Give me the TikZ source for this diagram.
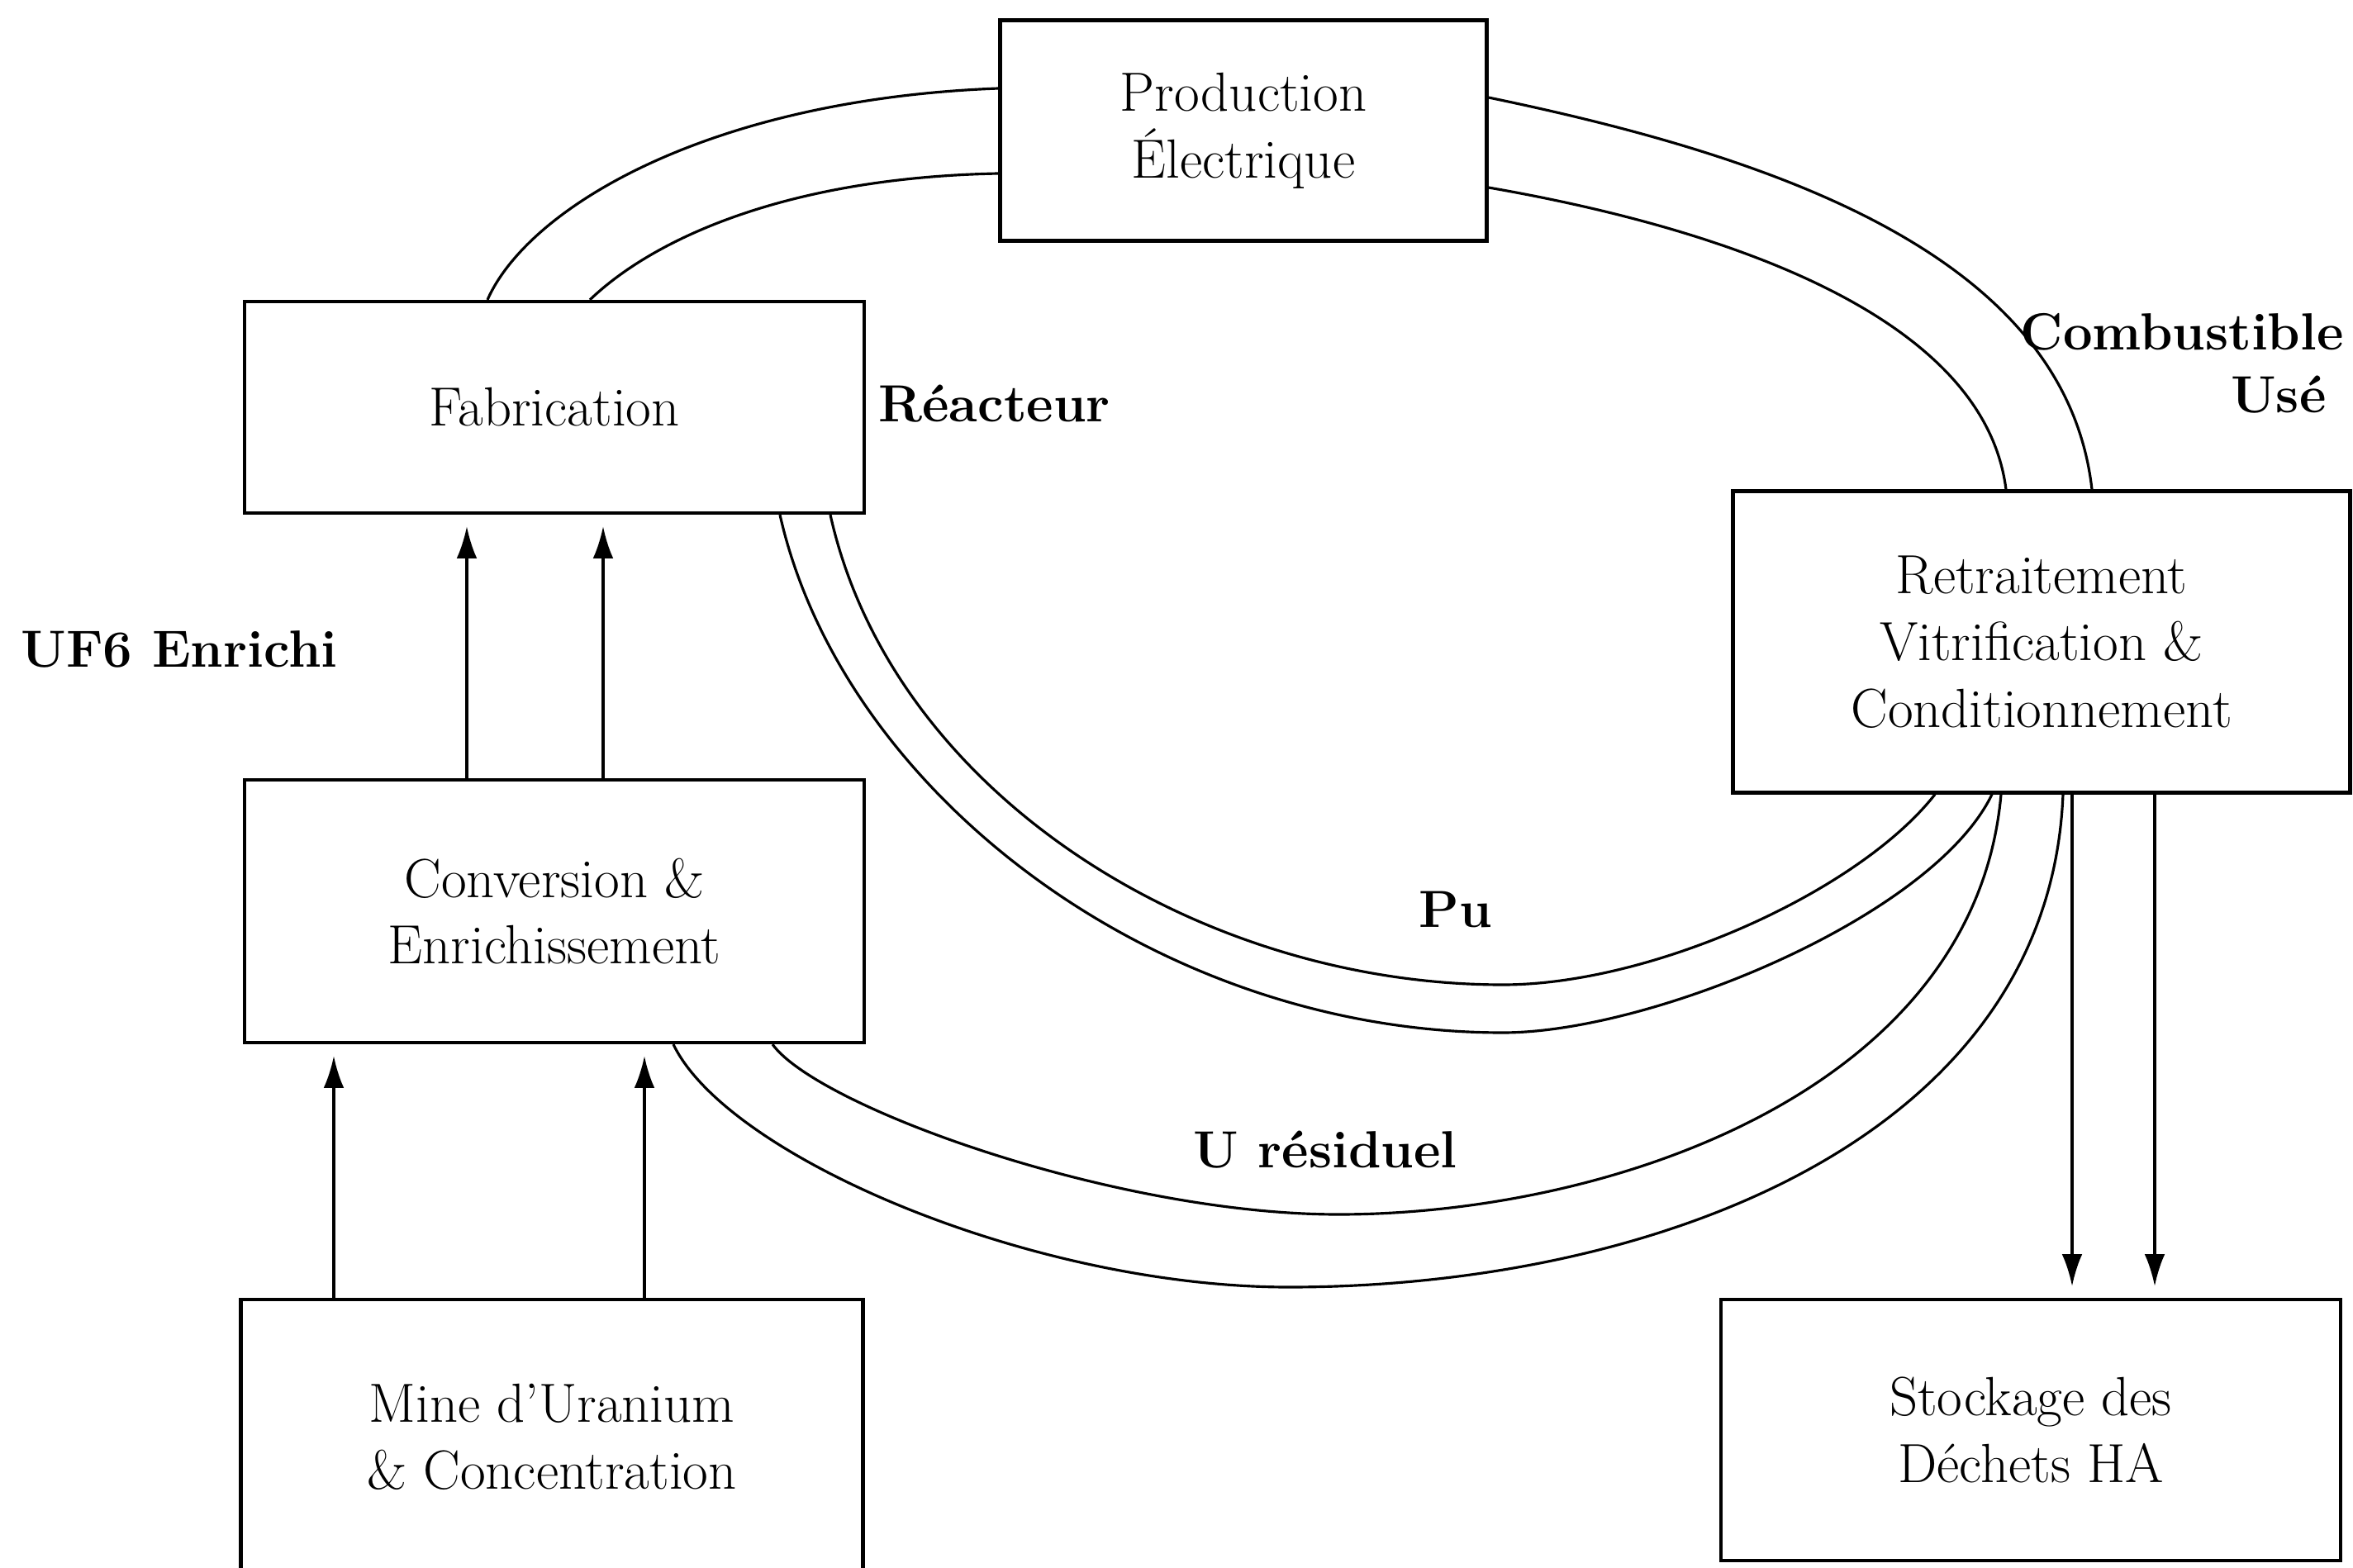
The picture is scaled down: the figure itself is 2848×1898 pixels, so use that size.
\documentclass[tikz,border=0pt]{standalone}
\usetikzlibrary{arrows.meta}
\tikzset{every node/.style={font=\fontsize{19}{23}\selectfont},
  stagebox/.style={draw,line width=1.2pt,align=center,inner sep=1mm},
  flowline/.style={line width=0.9pt},
  flowarrow/.style={line width=0.9pt,-{Latex[length=11pt,width=7pt]},shorten >=4pt},
  boldlabel/.style={font=\bfseries\fontsize{18}{21.5}\selectfont}}

\begin{document}
\begin{tikzpicture}[x=0.1mm,y=-0.1mm]
  \path[use as bounding box] (0,0) rectangle (2848,1898);
  % process boxes
  \node[stagebox,minimum width=58.9mm,minimum height=26.7mm] (prod) at (1505,158)
    {Production\\Électrique};
  \node[stagebox,minimum width=75mm,minimum height=25.6mm] (fab) at (671,493)
    {Fabrication};
  \node[stagebox,minimum width=75mm,minimum height=31.8mm] (conv) at (671,1103)
    {Conversion \&\\Enrichissement};
  \node[stagebox,minimum width=75.3mm,minimum height=33.2mm] (mine) at (668,1739)
    {Mine d'Uranium\\\& Concentration};
  \node[stagebox,minimum width=74.7mm,minimum height=36.5mm] (retr) at (2471,777)
    {Retraitement\\Vitrification \&\\Conditionnement};
  \node[stagebox,minimum width=75mm,minimum height=31.6mm] (stock) at (2458,1731)
    {Stockage des\\Déchets HA};
  % labels
  \node[boldlabel,anchor=west] (reac) at (1051,489) {Réacteur};
  \node[boldlabel,anchor=west] (uf6) at (13,786) {UF6 Enrichi};
  \node[boldlabel,anchor=east,align=right] (comb) at (2849,440) {Combustible\\Usé\hspace*{6pt}};
  \node[boldlabel] (pu) at (1762,1101) {Pu};
  \node[boldlabel] (ures) at (1604,1392) {U résiduel};
  % straight feeds
  \foreach \xa in {565,730}
    \draw[flowarrow] (\xa,0 |- conv.north) -- (\xa,0 |- fab.south);
  \foreach \xa in {404,780}
    \draw[flowarrow] (\xa,0 |- mine.north) -- (\xa,0 |- conv.south);
  \foreach \xa in {2508,2608}
    \draw[flowarrow] (\xa,0 |- retr.south) -- (\xa,0 |- stock.north);
  % Fabrication -- Production
  \draw[flowline] (590,0 |- fab.north) .. controls (640,250) and (860,120) .. (prod.west |- 0,107);
  \draw[flowline] (714,0 |- fab.north) .. controls (790,290) and (950,215) .. (prod.west |- 0,210);
  % Production -- Retraitement
  \draw[flowline] (prod.east |- 0,118) .. controls (2150,190) and (2500,310) .. (2532,0 |- retr.north);
  \draw[flowline] (prod.east |- 0,227) .. controls (2050,270) and (2400,370) .. (2428,0 |- retr.north);
  % Pu
  \draw[flowline] (944,0 |- fab.south) .. controls (1020,960) and (1400,1250) .. (1819,1250)
    .. controls (2000,1250) and (2340,1109) .. (2411,0 |- retr.south);
  \draw[flowline] (1005,0 |- fab.south) .. controls (1080,960) and (1450,1192) .. (1819,1192)
    .. controls (2000,1192) and (2250,1079) .. (2342,0 |- retr.south);
  % U residuel
  \draw[flowline] (815,0 |- conv.south) .. controls (880,1400) and (1250,1558) .. (1560,1558)
    .. controls (2000,1558) and (2480,1380) .. (2497,0 |- retr.south);
  \draw[flowline] (935,0 |- conv.south) .. controls (990,1340) and (1350,1470) .. (1620,1470)
    .. controls (1950,1470) and (2390,1320) .. (2422,0 |- retr.south);
\end{tikzpicture}
\end{document}
